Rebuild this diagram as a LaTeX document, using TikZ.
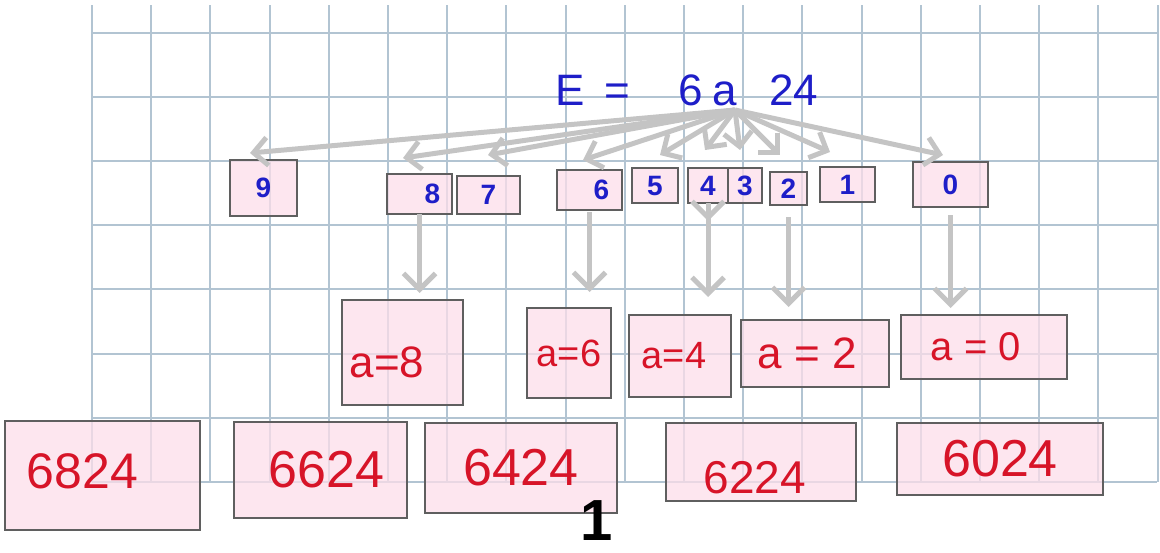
\documentclass[tikz,border=0pt]{standalone}
\usepackage{fontspec}
\setmainfont{Liberation Sans}
\usetikzlibrary{arrows.meta,calc}
\definecolor{gridblue}{RGB}{178,196,210}
\definecolor{boxpink}{RGB}{252,222,234}
\definecolor{boxgray}{RGB}{95,95,95}
\definecolor{inkblue}{RGB}{30,30,200}
\definecolor{inkred}{RGB}{215,20,40}
\definecolor{arrgray}{RGB}{196,196,196}
\tikzset{
  gridln/.style={draw=gridblue,line width=1pt},
  pbox/.style={draw=boxgray,line width=0.8pt,fill=boxpink,fill opacity=0.75,text opacity=1,inner sep=0pt,outer sep=0pt},
  topbox/.style={pbox,text=inkblue,font=\bfseries\fontsize{14}{16}\selectfont},
  midbox/.style={pbox,text=inkred,font=\fontsize{22}{24}\selectfont},
  resbox/.style={pbox,text=inkred,font=\fontsize{26}{28}\selectfont},
  farr/.style={-{Straight Barb[length=7pt,width=14pt]},draw=arrgray,line width=2.5pt},
  darr/.style={-{Straight Barb[length=8pt,width=16pt]},draw=arrgray,line width=2.5pt}
}

\begin{document}
\begin{tikzpicture}[x=0.5pt,y=-0.5pt]
  \useasboundingbox (0,0) rectangle (1160,552);

  % squared paper
  \foreach \i in {0,...,18}
    \draw[gridln] ({92+59.2*\i},5) -- ({92+59.2*\i},482);
  \foreach \j in {0,...,7}
    \draw[gridln] (92,{33+64.1*\j}) -- (1157,{33+64.1*\j});

  \node[anchor=base west,inner sep=0pt,text=inkblue,font=\fontsize{22}{24}\selectfont] (eq) at (555,105)
    {E\hspace{10pt}=\hspace{24pt}6\hspace{5pt}a\hspace{16pt}24};
  \coordinate (src) at (735,110);

  % digits
  \node[topbox,minimum width=33.5pt,minimum height=28pt] (n9) at (263.5,188) {9};
  \node[topbox,minimum width=32.5pt,minimum height=20pt] (n8) at (419.5,194) {\hspace{13pt}8};
  \node[topbox,minimum width=31.5pt,minimum height=19pt] (n7) at (488.5,195) {7};
  \node[topbox,minimum width=32.5pt,minimum height=20pt] (n6) at (589.5,190) {\hspace{12pt}6};
  \node[topbox,minimum width=23pt,minimum height=17.5pt] (n5) at (655,185.5) {5};
  \node[topbox,minimum width=20pt,minimum height=17.5pt] (n4) at (708,185.5) {4};
  \node[topbox,minimum width=17pt,minimum height=17.5pt] (n3) at (745,185.5) {3};
  \node[topbox,minimum width=18.5pt,minimum height=16.5pt] (n2) at (788.5,188.5) {2};
  \node[topbox,minimum width=27.5pt,minimum height=17.5pt] (n1) at (847.5,184.5) {1};
  \node[topbox,minimum width=37.5pt,minimum height=22.5pt] (n0) at (950.5,184.5) {0};

  % values of a
  \node[midbox,minimum width=60.5pt,minimum height=52.5pt] (a8) at (402.5,352.5) {\raisebox{-5pt}[\height][\depth]{a=8}\kern15.5pt};
  \node[midbox,minimum width=42pt,minimum height=45pt,font=\fontsize{19}{21}\selectfont] (a6) at (569,353) {a=6};
  \node[midbox,minimum width=51pt,minimum height=41pt,font=\fontsize{19}{21}\selectfont] (a4) at (680,356) {\kern-6pt a=4};
  \node[midbox,minimum width=74pt,minimum height=33.5pt] (a2) at (815,353.5) {a = 2\kern8pt};
  \node[midbox,minimum width=83pt,minimum height=32pt,font=\fontsize{20}{22}\selectfont] (a0) at (984,347) {a = 0\kern8pt};

  % results
  \node[resbox,minimum width=97.5pt,minimum height=54.5pt,font=\fontsize{25}{27}\selectfont] (r8) at (102.5,475.5) {\raisebox{2pt}[\height][\depth]{6824}\kern20pt};
  \node[resbox,minimum width=86.5pt,minimum height=48pt] (r6) at (320.5,470) {\kern6pt 6624};
  \node[resbox,minimum width=96pt,minimum height=45pt] (r4) at (521,468) {6424};
  \node[resbox,minimum width=95pt,minimum height=39pt,font=\fontsize{23}{25}\selectfont] (r2) at (761,462) {\raisebox{-8pt}[\height][\depth]{6224}\kern6pt};
  \node[resbox,minimum width=103pt,minimum height=36pt] (r0) at (1000,459) {6024};

  \node[font=\bfseries\fontsize{29}{30}\selectfont,inner sep=0pt] (pg) at (597,521) {1};

  % fan from E
  \foreach \n/\x/\y in {9/250/153,8/403/158,7/488/155,6/583/160,5/660/155,4/705/150,3/740/150,2/780/155,1/830/152,0/943/155}{
    \coordinate (t\n) at (\x,\y);
    \draw[farr] (src) -- (t\n);
  }

  % downward
  \draw[darr,shorten >=3.5pt] (n8.south) -- (n8.south |- a8.north);
  \draw[darr,shorten <=1pt,shorten >=8pt] (n6.south) -- (n6.south |- a6.north);
  \draw[darr,shorten >=9pt] (n4.south) -- (n4.south |- a4.north);
  \coordinate (k4) at ($(n4.south)+(0,18)$);
  \draw[darr] (n4.south) -- (k4);
  \draw[darr,shorten <=6pt,shorten >=6.5pt] (n2.south) -- (n2.south |- a2.north);
  \draw[darr,shorten <=4pt,shorten >=3.5pt] (n0.south) -- (n0.south |- a0.north);
\end{tikzpicture}
\end{document}
